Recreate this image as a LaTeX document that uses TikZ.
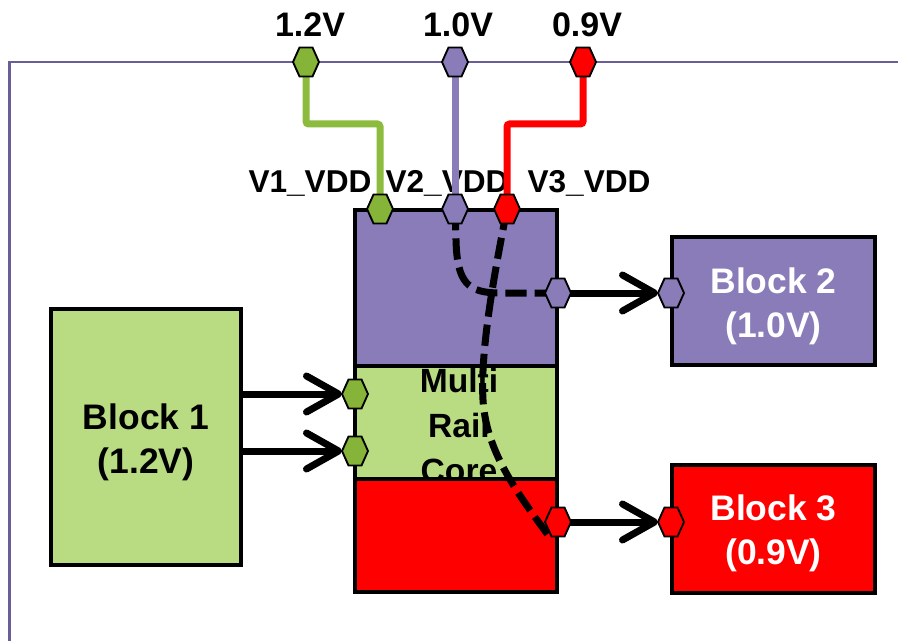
\documentclass[tikz,border=0pt]{standalone}
\usepackage{fontspec}
\setmainfont{Liberation Sans}
\usetikzlibrary{arrows.meta,calc}
\definecolor{cpurple}{RGB}{138,124,185}
\definecolor{cgreen}{RGB}{185,219,130}
\definecolor{cgreenhex}{RGB}{134,180,56}
\definecolor{cgreenwire}{RGB}{140,187,61}
\definecolor{cred}{RGB}{255,0,0}
\definecolor{cframe}{RGB}{106,94,150}
\newcommand\hexport[3]{%
  \coordinate (#1) at (#2);
  \filldraw[hexst, fill=#3] (#1) ++(-13,0) -- ++(6.5,-14.5) -- ++(13,0) -- ++(6.5,14.5) -- ++(-6.5,14.5) -- ++(-13,0) -- cycle;}
\begin{document}
\begin{tikzpicture}[x=0.75pt,y=-0.75pt,
  box/.style={draw=black, line width=2.6pt, inner sep=0pt},
  hexst/.style={draw=black, line width=1.4pt, line join=miter},
  wire/.style={line width=5.25pt, rounded corners=2pt},
  dashcurve/.style={line width=5.25pt, dash pattern=on 16pt off 6pt},
  arr/.style={line width=5.25pt, -{Straight Barb[length=24pt,width=27pt,round]}},
  blktext/.style={inner sep=0pt, anchor=base, align=center, font=\bfseries\fontsize{26.6pt}{33pt}\selectfont},
  coretext/.style={inner sep=0pt, anchor=base, align=center, font=\bfseries\fontsize{25.2pt}{33.75pt}\selectfont},
  vtext/.style={inner sep=0pt, anchor=base, font=\bfseries\fontsize{25.5pt}{30pt}\selectfont},
  vddtext/.style={inner sep=0pt, anchor=base, font=\bfseries\fontsize{23.7pt}{28pt}\selectfont}]
\useasboundingbox (0,0) rectangle (898,641);
% frame
\draw[cframe, line width=1.7pt] (898,62) -- (9.5,62) -- (9.5,641);
% core
\node[box, fill=cpurple, minimum width=151.5pt, minimum height=117pt] (cp) at (456,288) {};
\node[box, fill=cgreen, minimum width=151.5pt, minimum height=84.75pt] (cg) at (456,422.5) {};
\node[coretext] (ct) at (459,482) {Multi\\Rail\\Core};
\node[box, fill=cred, minimum width=151.5pt, minimum height=84.75pt] (cr) at (456,535.5) {};
% blocks
\node[box, fill=cgreen, minimum width=142.5pt, minimum height=192pt] (b1) at (146,437) {};
\node[box, fill=cpurple, minimum width=152.25pt, minimum height=96pt] (b2) at (773.5,301) {};
\node[box, fill=cred, minimum width=152.25pt, minimum height=96pt] (b3) at (773.5,529) {};
\node[blktext] (t1) at (146,473) {Block 1\\(1.2V)};
\node[blktext, text=white] (t2) at (773.5,337) {Block 2\\(1.0V)};
\node[blktext, text=white] (t3) at (773.5,564) {Block 3\\(0.9V)};
% labels
\node[vtext] (l1) at (310,37) {1.2V};
\node[vtext] (l2) at (458,37) {1.0V};
\node[vtext] (l3) at (587,37) {0.9V};
\node[vddtext] (d1) at (310,193) {V1\_VDD};
\node[vddtext] (d2) at (447,193) {V2\_VDD};
\node[vddtext] (d3) at (589,193) {V3\_VDD};
% port coordinates
\coordinate (s1) at (306,62);
\coordinate (s2) at (455,62);
\coordinate (s3) at (583,62);
\coordinate (c1) at (380,209);
\coordinate (c2) at (455,209);
\coordinate (c3) at (507,209);
% supply wires
\draw[wire, cgreenwire] (s1) -- (s1 |- 0,124) -- (c1 |- 0,124) -- (c1);
\draw[wire, cpurple] (s2) -- (c2);
\draw[wire, cred] (s3) -- (s3 |- 0,124) -- (c3 |- 0,124) -- (c3);
% dashed internal routes
\coordinate (o2) at (558,293);
\coordinate (o3) at (558,522);
\draw[dashcurve] (c2) -- (456,240) .. controls (457,283) and (468,293) .. (500,293) -- (o2);
\draw[dashcurve] (c3) .. controls (495,270) and (480,350) .. (483,400) .. controls (486,450) and (515,490) .. (548,535);
% arrows
\coordinate (i1) at (355,394);
\coordinate (i2) at (355,451);
\coordinate (q2) at (671,293);
\coordinate (q3) at (671,522);
\draw[arr] (b1.east |- i1) -- ($(i1)+(-13,0)$);
\draw[arr] (b1.east |- i2) -- ($(i2)+(-13,0)$);
\draw[arr] (o2) -- ($(q2)+(-13,0)$);
\draw[arr] (o3) -- ($(q3)+(-13,0)$);
% hexagon ports
\hexport{h1}{306,62}{cgreenhex}
\hexport{h2}{455,62}{cpurple}
\hexport{h3}{583,62}{cred}
\hexport{h4}{380,209}{cgreenhex}
\hexport{h5}{455,209}{cpurple}
\hexport{h6}{507,209}{cred}
\hexport{h7}{355,394}{cgreenhex}
\hexport{h8}{355,451}{cgreenhex}
\hexport{h9}{558,293}{cpurple}
\hexport{h10}{558,522}{cred}
\hexport{h11}{671,293}{cpurple}
\hexport{h12}{671,522}{cred}
\end{tikzpicture}
\end{document}
